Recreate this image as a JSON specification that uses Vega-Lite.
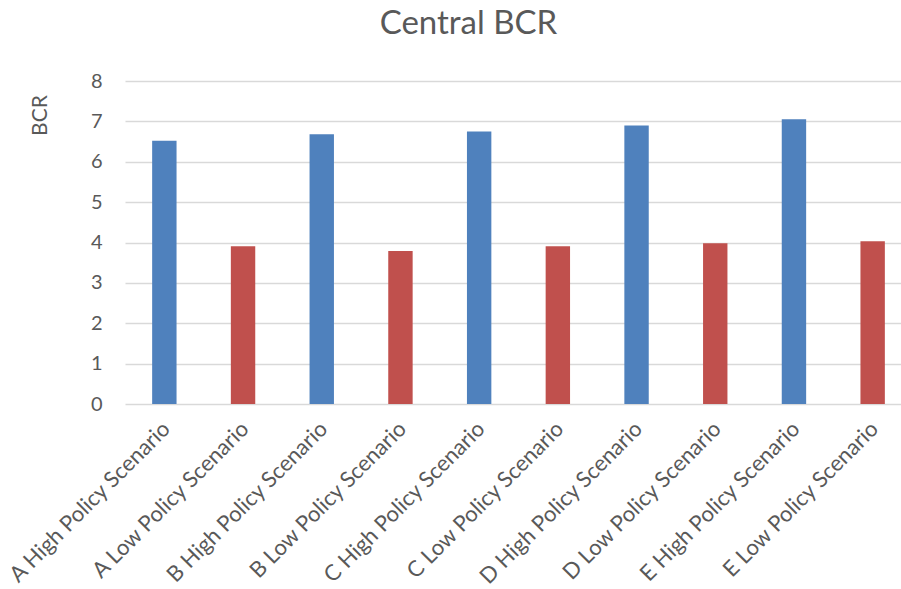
{
  "$schema": "https://vega.github.io/schema/vega-lite/v6.json",
  "autosize": {"type": "none"},
  "padding": {"left": 125, "top": 81, "right": 0, "bottom": 185},
  "width": 787,
  "height": 323,
  "background": "white",
  "title": {
    "text": "Central BCR",
    "fontSize": 33,
    "font": "Lato",
    "fontWeight": "normal",
    "color": "#595959",
    "anchor": "middle",
    "dx": -50,
    "offset": 30
  },
  "data": {
    "values": [
      {"scenario": "A High Policy Scenario", "policy": "High", "bcr": 6.52},
      {"scenario": "A Low Policy Scenario", "policy": "Low", "bcr": 3.91},
      {"scenario": "B High Policy Scenario", "policy": "High", "bcr": 6.68},
      {"scenario": "B Low Policy Scenario", "policy": "Low", "bcr": 3.79},
      {"scenario": "C High Policy Scenario", "policy": "High", "bcr": 6.75},
      {"scenario": "C Low Policy Scenario", "policy": "Low", "bcr": 3.91},
      {"scenario": "D High Policy Scenario", "policy": "High", "bcr": 6.9},
      {"scenario": "D Low Policy Scenario", "policy": "Low", "bcr": 3.98},
      {"scenario": "E High Policy Scenario", "policy": "High", "bcr": 7.05},
      {"scenario": "E Low Policy Scenario", "policy": "Low", "bcr": 4.03}
    ]
  },
  "mark": {"type": "bar"},
  "encoding": {
    "x": {
      "field": "scenario",
      "type": "nominal",
      "sort": null,
      "scale": {"paddingInner": 0.69, "paddingOuter": 0.345},
      "axis": {
        "title": null,
        "labelAngle": -45,
        "labelFontSize": 22,
        "labelFont": "Lato",
        "labelColor": "#595959",
        "labelPadding": 14,
        "labelOffset": -5,
        "labelLimit": 400,
        "ticks": false,
        "domain": false,
        "grid": false
      }
    },
    "y": {
      "field": "bcr",
      "type": "quantitative",
      "scale": {"domain": [0, 8], "nice": false},
      "axis": {
        "title": "BCR",
        "titleFont": "Lato",
        "titleFontSize": 21,
        "titleFontWeight": "normal",
        "titleColor": "#595959",
        "titleX": -85,
        "titleY": 34,
        "titleAngle": -90,
        "titleAlign": "center",
        "titleBaseline": "middle",
        "values": [0, 1, 2, 3, 4, 5, 6, 7, 8],
        "labelFont": "Lato",
        "labelFontSize": 20,
        "labelColor": "#595959",
        "labelPadding": 23,
        "ticks": false,
        "domain": false,
        "grid": true,
        "gridColor": "#D9D9D9",
        "gridWidth": 1.5
      }
    },
    "color": {
      "field": "policy",
      "type": "nominal",
      "scale": {"domain": ["High", "Low"], "range": ["#4F81BD", "#C0504D"]},
      "legend": null
    }
  },
  "config": {"view": {"stroke": null}}
}
